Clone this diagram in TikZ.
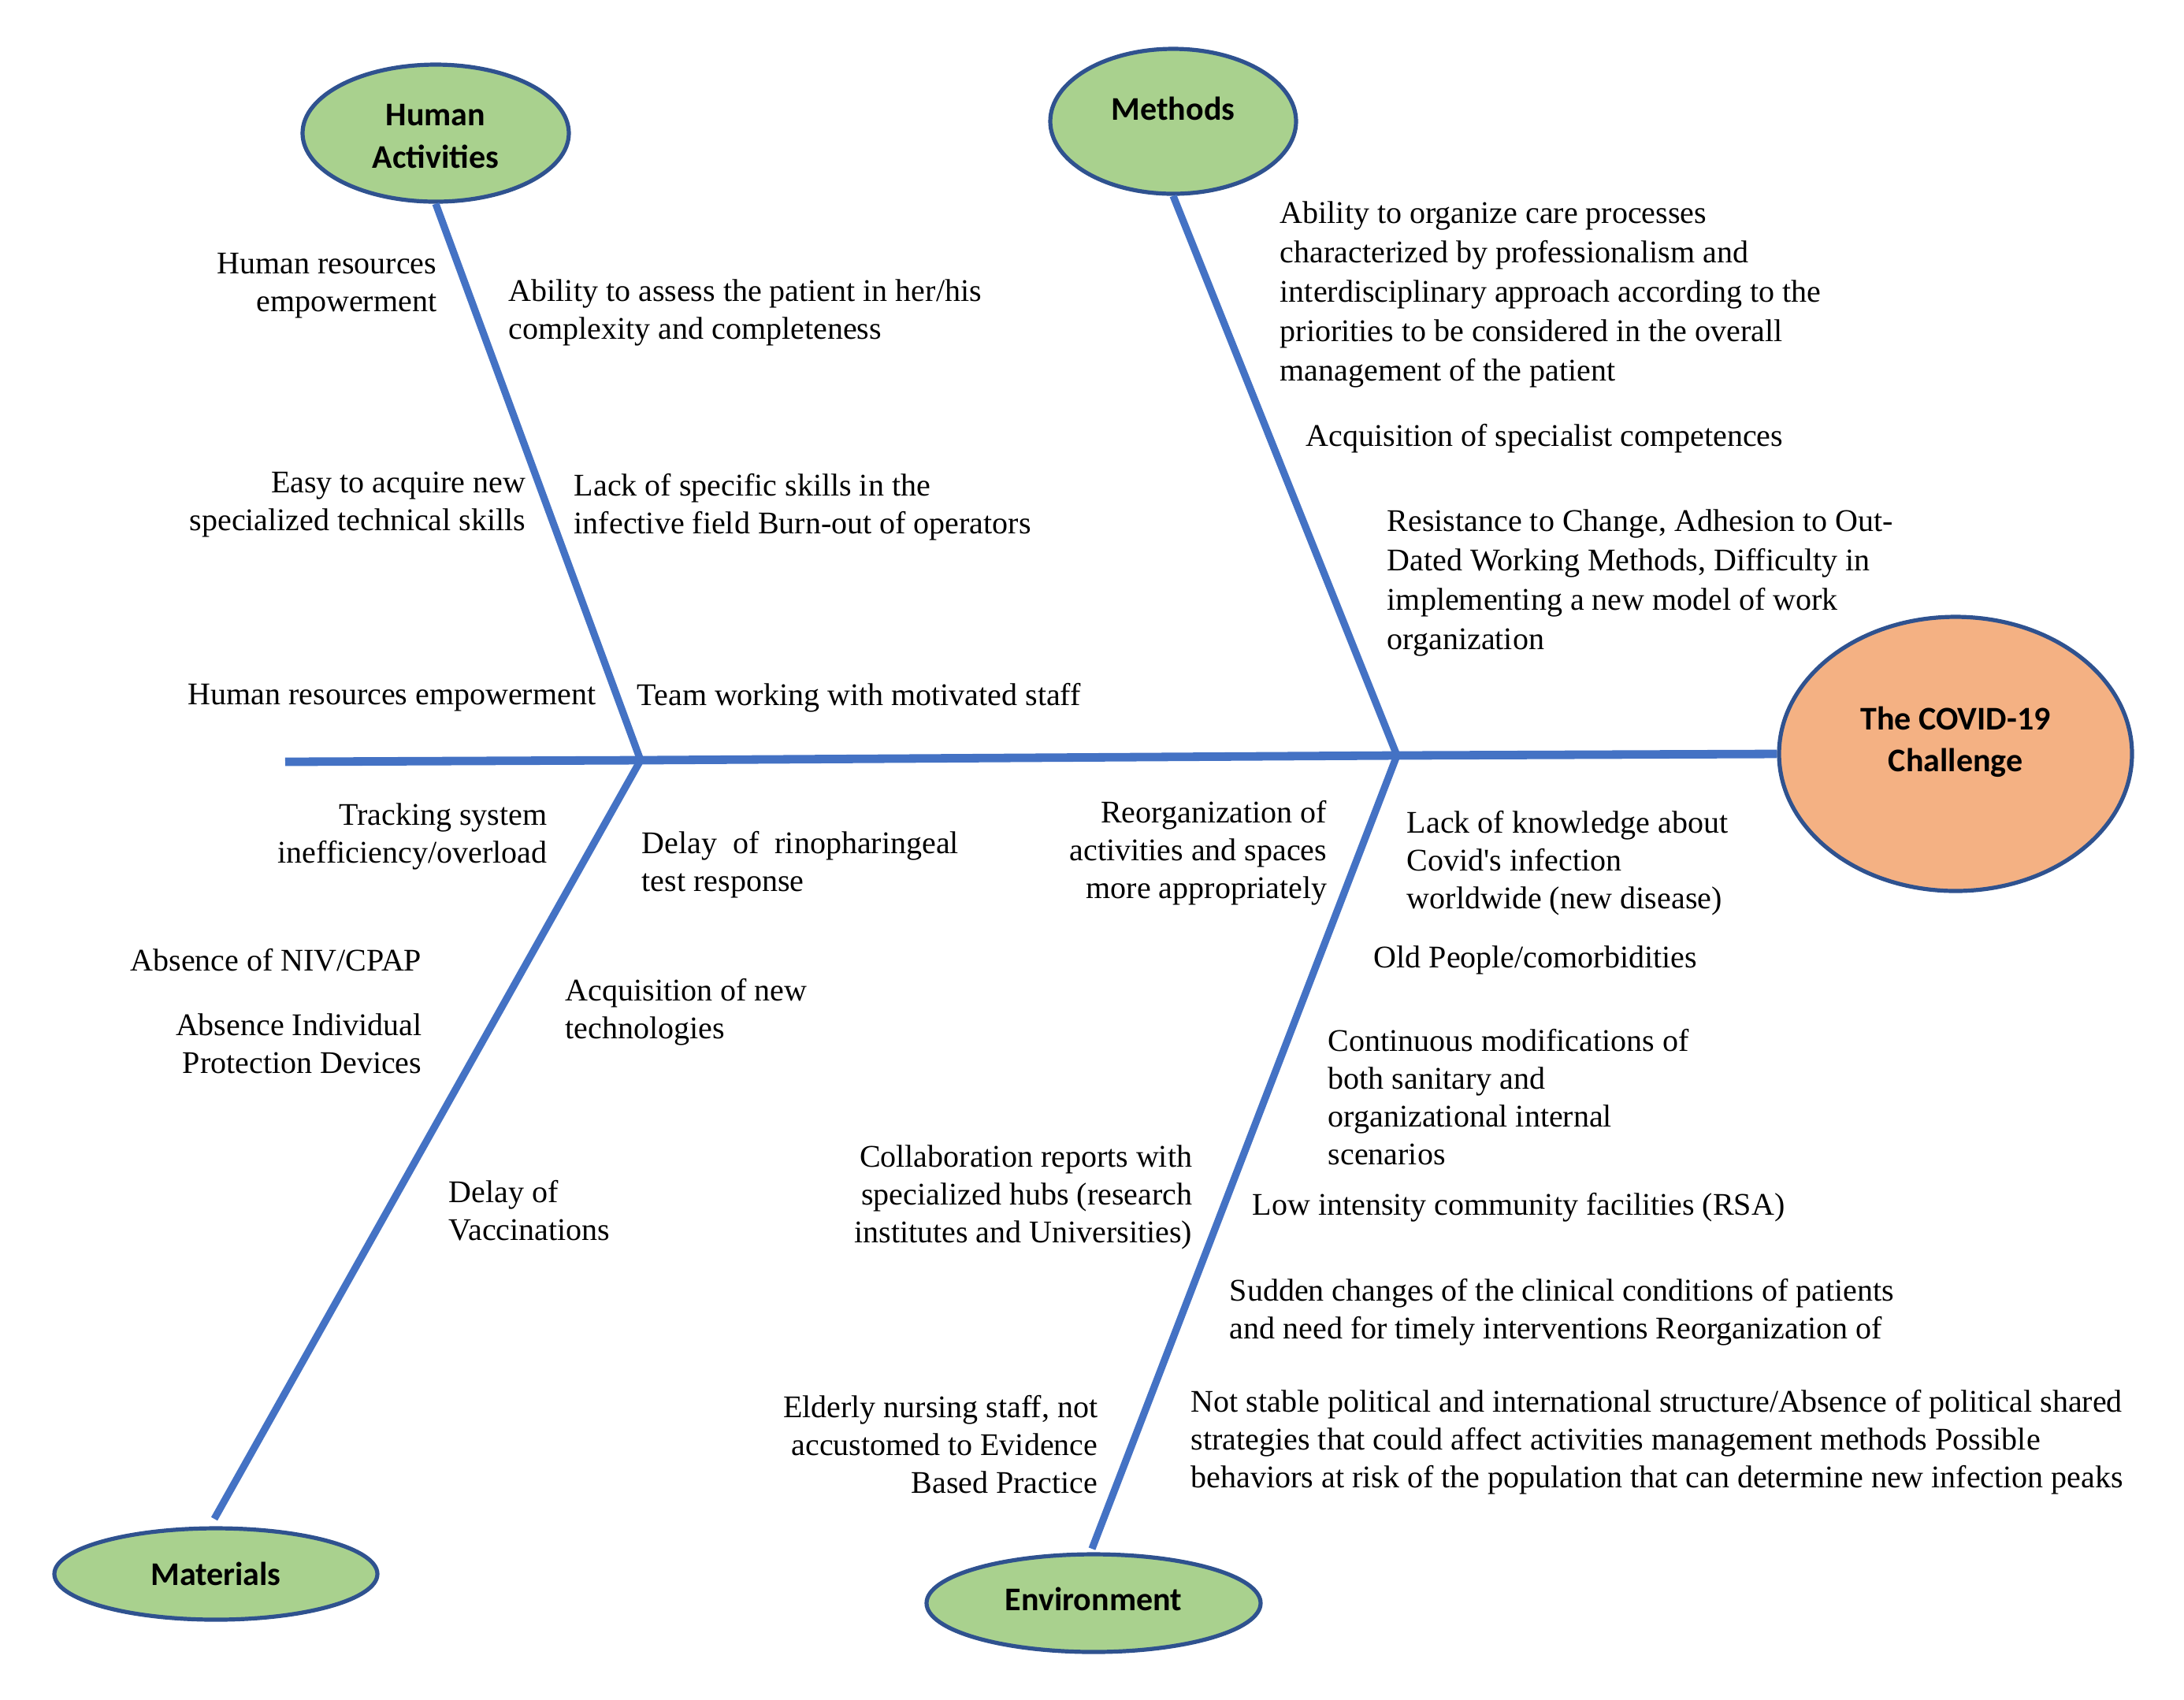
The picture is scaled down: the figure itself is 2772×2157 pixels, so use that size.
\documentclass[tikz,border=0pt]{standalone}
\usepackage{fontspec}
\setmainfont{Liberation Serif}
\newfontfamily\plainserif{Liberation Serif}
\newfontfamily\calib{Carlito}
\usetikzlibrary{shapes.geometric}
\definecolor{bone}{RGB}{68,114,196}
\definecolor{edge}{RGB}{47,82,143}
\definecolor{leaf}{RGB}{169,209,142}
\definecolor{covid}{RGB}{244,177,131}
\begin{document}
\begin{tikzpicture}[x=0.25pt,y=-0.25pt,
  cat/.style={ellipse,draw=edge,line width=1.3pt,fill=leaf,inner sep=0pt},
  catlab/.style={inner sep=0pt,align=center,font=\calib\bfseries\fontsize{10.5}{13.3}\selectfont},
  spine/.style={draw=bone,line width=2.7pt},
  bonel/.style={draw=bone,line width=2.3pt},
  txt/.style={inner sep=0pt,font=\fontsize{10}{12}\selectfont},
  lt/.style={txt,anchor=west,align=left},
  rt/.style={txt,anchor=east,align=right}]
\useasboundingbox (0,0) rectangle (2772,2157);
% category ellipses
\node[cat,minimum width=84.5pt,minimum height=43.5pt] (ha) at (553,169) {};
\node[cat,minimum width=78pt,minimum height=46pt] (me) at (1489,154) {};
\node[cat,fill=covid,minimum width=112pt,minimum height=87pt] (cov) at (2482,957) {};
\node[cat,minimum width=102.5pt,minimum height=29pt] (ma) at (274,1998) {};
\node[cat,minimum width=106pt,minimum height=31pt] (en) at (1388,2035) {};
\node[catlab] (haT) at (553,173) {Human\\Activities};
\node[catlab] (meT) at (1489,138) {Methods};
\node[catlab] (covT) at (2482,942) {The COVID-19\\Challenge};
\node[catlab] (maT) at (274,1998) {Materials};
\node[catlab] (enT) at (1388,2030) {Environment};
% skeleton
\coordinate (S0) at (362,967);
\coordinate (J1) at (813,965);
\coordinate (J2) at (1773,959);
\coordinate (maE) at (272,1928);
\coordinate (enE) at (1386,1966);
\draw[spine] (S0) -- (J1) -- (J2) -- (cov.west);
\draw[bonel] (ha.south) -- (J1);
\draw[bonel] (me.south) -- (J2);
\draw[bonel] (J1) -- (maE);
\draw[bonel] (J2) -- (enE);
% Human activities
\node[rt] (t1) at (555,363) {Human resources\\empowerment};
\node[lt] (t2) at (645,397) {Ability to assess the patient in her/his\\complexity and completeness};
\node[rt] (t3) at (668,640) {Easy to acquire new\\specialized technical skills};
\node[lt] (t4) at (728,644) {Lack of specific skills in the\\infective field Burn-out of operators};
\node[rt] (t5) at (757,886) {Human resources empowerment};
\node[lt] (t6) at (808,886) {Team working with motivated staff};
% Methods
\node[lt,font=\fontsize{10}{12.5}\selectfont] (t7) at (1624,374) {Ability to organize care processes\\characterized by professionalism and\\interdisciplinary approach according to the\\priorities to be considered in the overall\\management of the patient};
\node[lt] (t8) at (1657,557) {Acquisition of specialist competences};
\node[lt,font=\fontsize{10}{12.5}\selectfont] (t9) at (1760,740) {Resistance to Change, Adhesion to Out-\\Dated Working Methods, Difficulty in\\implementing a new model of work\\organization};
% Materials
\node[rt] (t10) at (695,1062) {Tracking system\\inefficiency/overload};
\node[lt] (t11) at (814,1098) {Delay\ \ of\ \ rinopharingeal\\test response};
\node[rt] (t12) at (536,1219) {Absence of NIV/CPAP};
\node[rt] (t13) at (536,1325) {Absence Individual\\Protection Devices};
\node[lt] (t14) at (717,1285) {Acquisition of new\\technologies};
\node[lt] (t15) at (569,1537) {Delay of\\Vaccinations};
\node[rt] (t16) at (1514,1520) {Collaboration reports with\\specialized hubs (research\\institutes and Universities)};
\node[rt] (t17) at (1394,1834) {Elderly nursing staff, not\\accustomed to Evidence\\Based Practice};
% Environment
\node[rt] (t18) at (1685,1083) {Reorganization of\\activities and spaces\\more appropriately};
\node[lt] (t19) at (1785,1096) {Lack of knowledge about\\Covid{\plainserif'}s infection\\worldwide (new disease)};
\node[lt] (t20) at (1743,1219) {Old People/comorbidities};
\node[lt] (t21) at (1685,1393) {Continuous modifications of\\both sanitary and\\organizational internal\\scenarios};
\node[lt] (t22) at (1589,1533) {Low intensity community facilities (RSA)};
\node[lt] (t23) at (1560,1666) {Sudden changes of the clinical conditions of patients\\and need for timely interventions Reorganization of};
\node[lt] (t24) at (1511,1831) {Not stable political and international structure/Absence of political shared\\strategies that could affect activities management methods Possible\\behaviors at risk of the population that can determine new infection peaks};
\end{tikzpicture}
\end{document}
